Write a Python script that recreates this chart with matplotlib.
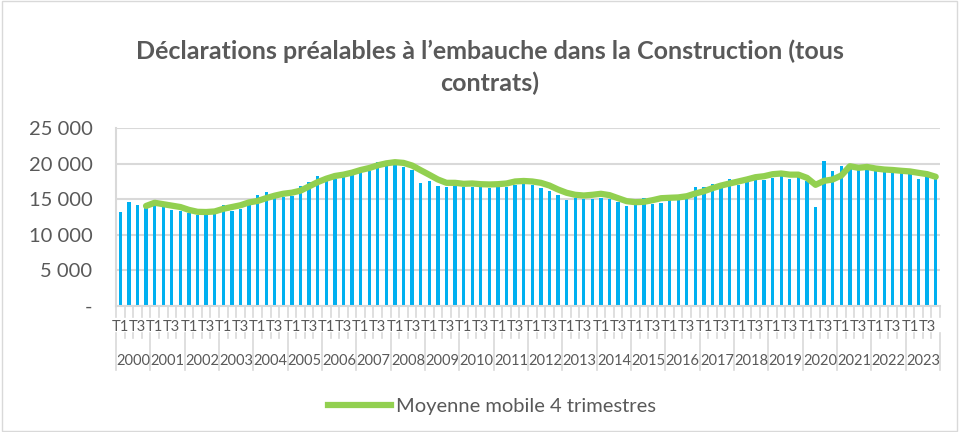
import matplotlib
matplotlib.use('Agg')
import matplotlib.pyplot as plt
import numpy as np
from matplotlib.lines import Line2D
from matplotlib.patches import Rectangle
from matplotlib.transforms import blended_transform_factory

plt.rcParams['font.family'] = ['Lato', 'DejaVu Sans']

# Déclarations préalables à l'embauche, Construction, trimestriel 2000 T1 - 2023 T4
annees = list(range(2000, 2024))
trimestres = ['T1', 'T2', 'T3', 'T4']

dpae = [
    13200, 14550, 14250, 14000,  # 2000
    14650, 13900, 13450, 13400,  # 2001
    13050, 12800, 12800, 12950,  # 2002
    14200, 13400, 13600, 14900,  # 2003
    15600, 15950, 15400, 15300,  # 2004
    15400, 16800, 17450, 18300,  # 2005
    17600, 17800, 18800, 18700,  # 2006
    18800, 19000, 20250, 20350,  # 2007
    19800, 19500, 19150, 17220,  # 2008
    17550, 16900, 16780, 16850,  # 2009
    16680, 16720, 16680, 16630,  # 2010
    16650, 16650, 16950, 17100,  # 2011
    16950, 16550, 16140, 15580,  # 2012
    14880, 15100, 15020, 15080,  # 2013
    15220, 15060, 14550, 14050,  # 2014
    14170, 15130, 14300, 14500,  # 2015
    14950, 14900, 15000, 16680,  # 2016
    16650, 17170, 16600, 17880,  # 2017
    17050, 18100, 18430, 17750,  # 2018
    18040, 18360, 17820, 18050,  # 2019
    17620, 13900, 20350, 18900,  # 2020
    19700, 19550, 19130, 19300,  # 2021
    18900, 18900, 18730, 19200,  # 2022
    18670, 17900, 18150, 17780,  # 2023
]

moyenne_mobile = [
    np.nan, np.nan, np.nan, 14050,
    14500, 14300, 14100, 13900,
    13500, 13230, 13200, 13280,
    13650, 13900, 14150, 14550,
    14750, 15150, 15500, 15770,
    15920, 16200, 16800, 17400,
    17880, 18260, 18450, 18730,
    19100, 19380, 19760, 20040,
    20200, 20100, 19730, 19070,
    18430, 17770, 17300, 17300,
    17160, 17210, 17110, 17070,
    17110, 17210, 17490, 17560,
    17490, 17300, 16920, 16360,
    15900, 15620, 15520, 15620,
    15760, 15570, 15140, 14720,
    14580, 14630, 14860, 15140,
    15200, 15250, 15420, 15800,
    16120, 16550, 16920, 17210,
    17490, 17770, 18090, 18230,
    18510, 18610, 18450, 18450,
    18000, 17020, 17580, 17770,
    18330, 19630, 19410, 19530,
    19310, 19170, 19100, 18990,
    18900, 18700, 18520, 18150,
]

gris_texte = '#595959'
gris_ligne = '#D9D9D9'

fig = plt.figure(figsize=(9.59, 4.32), dpi=100)
fig.patches.append(Rectangle((0.002, 0.003), 0.996, 0.994, transform=fig.transFigure,
                             fill=False, edgecolor='#D9D9D9', linewidth=1))
ax = fig.add_axes([116 / 959, 1 - 306 / 432, 824 / 959, 178 / 432])

x = np.arange(len(dpae))
ax.bar(x, dpae, width=0.38, color='#00B0F0', zorder=2)
ax.plot(x, moyenne_mobile, color='#92D050', linewidth=4.5, solid_capstyle='round',
        solid_joinstyle='round', zorder=3)

ax.set_xlim(-0.5, len(dpae) - 0.5)
ax.set_ylim(0, 25000)
yt = np.arange(0, 25001, 5000)
ax.set_yticks(yt)
ax.set_yticklabels(['-' if v == 0 else f'{v:,}'.replace(',', ' ') for v in yt],
                   fontsize=14.5, color=gris_texte)
ax.tick_params(axis='y', length=0, pad=17)
ax.set_xticks([])
ax.grid(axis='y', color=gris_ligne, linewidth=1.5, zorder=0)
ax.set_axisbelow(True)
for s in ['top', 'right']:
    ax.spines[s].set_visible(False)
ax.spines['left'].set_color(gris_ligne)
ax.spines['left'].set_linewidth(1.5)
ax.spines['bottom'].set_color(gris_ligne)
ax.spines['bottom'].set_linewidth(1.5)

# axe des catégories à deux niveaux (trimestres / années)
trans = blended_transform_factory(ax.transData, ax.transAxes)
h = 178.0
for k in range(len(dpae) + 1):
    xb = k - 0.5
    ax.plot([xb, xb], [0, -11 / h], transform=trans, color=gris_ligne, lw=1.2, clip_on=False)
    bas = -64 / h if k % 4 == 0 else -32 / h
    ax.plot([xb, xb], [-27 / h, bas], transform=trans, color=gris_ligne, lw=1.2, clip_on=False)

for j, an in enumerate(annees):
    for q in (0, 2):
        ax.text(4 * j + q, -21 / h, trimestres[q], transform=trans, ha='center', va='center',
                fontsize=10.5, color=gris_texte)
    ax.text(4 * j + 1.5, -55 / h, str(an), transform=trans, ha='center', va='center',
            fontsize=10.5, color=gris_texte)

fig.text(490 / 959, 1 - 67 / 432,
         "Déclarations préalables à l’embauche dans la Construction (tous\ncontrats)",
         ha='center', va='center', fontsize=18, fontweight='bold', color=gris_texte,
         linespacing=1.45)

handle = Line2D([], [], color='#92D050', linewidth=4.5)
fig.legend(handles=[handle], labels=['Moyenne mobile 4 trimestres'], loc='center',
           bbox_to_anchor=(492 / 959, 1 - 406 / 432), frameon=False, fontsize=14.5,
           handlelength=3.1, handletextpad=0.25, labelcolor=gris_texte)

fig.savefig('out.png', dpi=100)
